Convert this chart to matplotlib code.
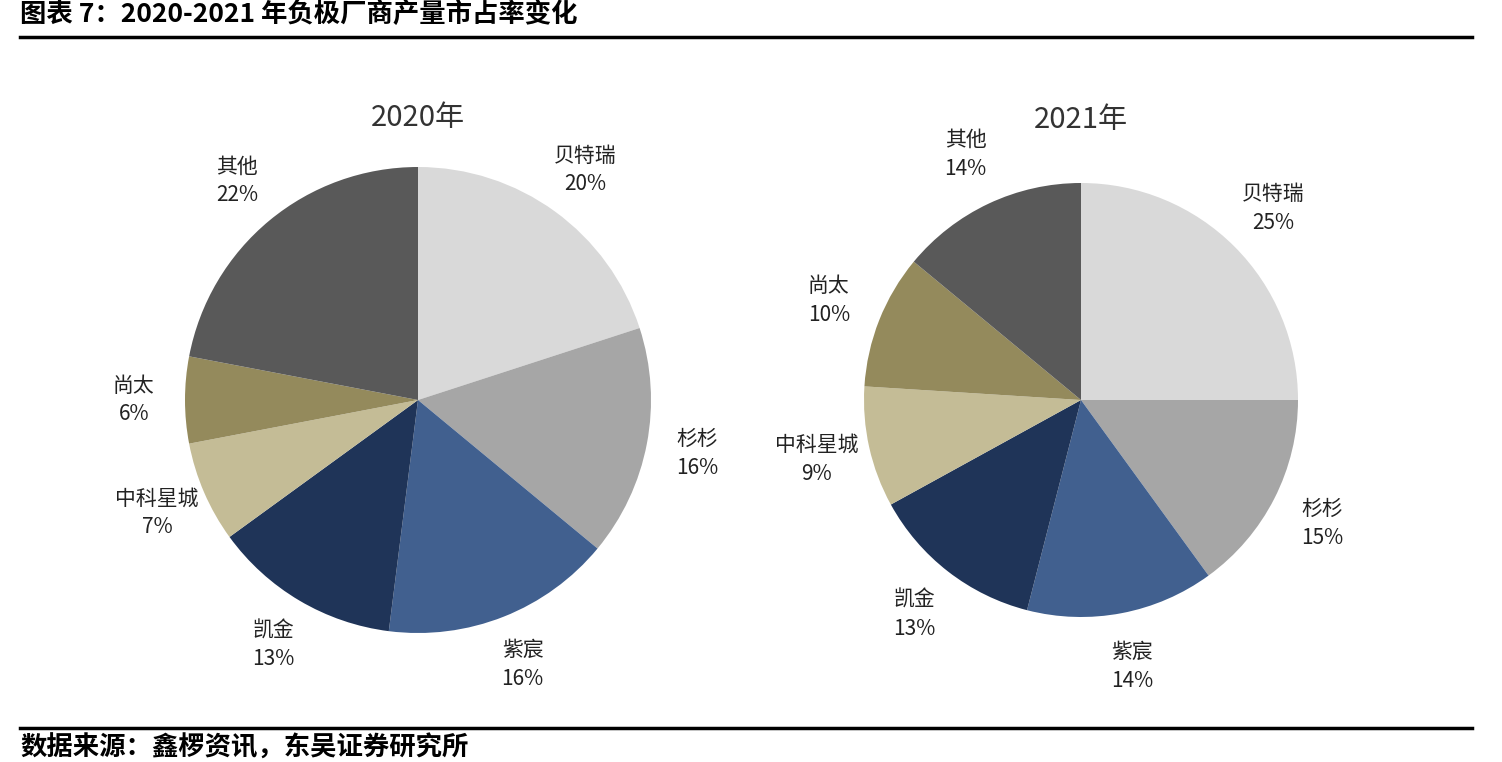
import matplotlib.pyplot as plt
from matplotlib.lines import Line2D

plt.rcParams["font.family"] = ["Noto Sans CJK SC", "DejaVu Sans"]

names = ["贝特瑞", "杉杉", "紫宸", "凯金", "中科星城", "尚太", "其他"]
share_2020 = [20, 16, 16, 13, 7, 6, 22]
share_2021 = [25, 15, 14, 13, 9, 10, 14]
colors = ["#d9d9d9", "#a6a6a6", "#41608f", "#1f3458", "#c4bc96", "#948a5c", "#595959"]

W, H = 1502, 762
fig = plt.figure(figsize=(W / 100, H / 100), dpi=100)


def pie_axes(cx, cy, r):
    return fig.add_axes([(cx - r) / W, 1 - (cy + r) / H, 2 * r / W, 2 * r / H])


def draw(ax, vals, title, dist, title_y):
    labels = [f"{n}\n{v}%" for n, v in zip(names, vals)]
    _, texts = ax.pie(vals, colors=colors, startangle=90, counterclock=False,
                      labels=labels, labeldistance=dist,
                      textprops=dict(fontsize=15, color="#222222", linespacing=1.4),
                      wedgeprops=dict(linewidth=0))
    for t in texts:
        t.set_ha("center")
    ax.set_xlim(-1, 1)
    ax.set_ylim(-1, 1)
    ax.set_aspect("equal")
    ax.text(0, title_y, title, fontsize=21, color="#333333", ha="center", va="center")


ax1 = pie_axes(418, 400, 233)
draw(ax1, share_2020, "2020年", 1.22, 1.21)
ax2 = pie_axes(1081, 400, 217)
draw(ax2, share_2021, "2021年", 1.25, 1.29)

fig.text(20 / W, 1 - 14 / H, "图表 7：2020-2021 年负极厂商产量市占率变化",
         fontsize=19, fontweight="bold", va="center", ha="left")
fig.text(20 / W, 1 - 748 / H, "数据来源：鑫椤资讯，东吴证券研究所",
         fontsize=19, fontweight="bold", va="center", ha="left")
for y in (37, 728):
    fig.add_artist(Line2D([20 / W, 1472 / W], [1 - y / H] * 2, color="black", linewidth=2.5))

fig.savefig("out.png", dpi=100)
